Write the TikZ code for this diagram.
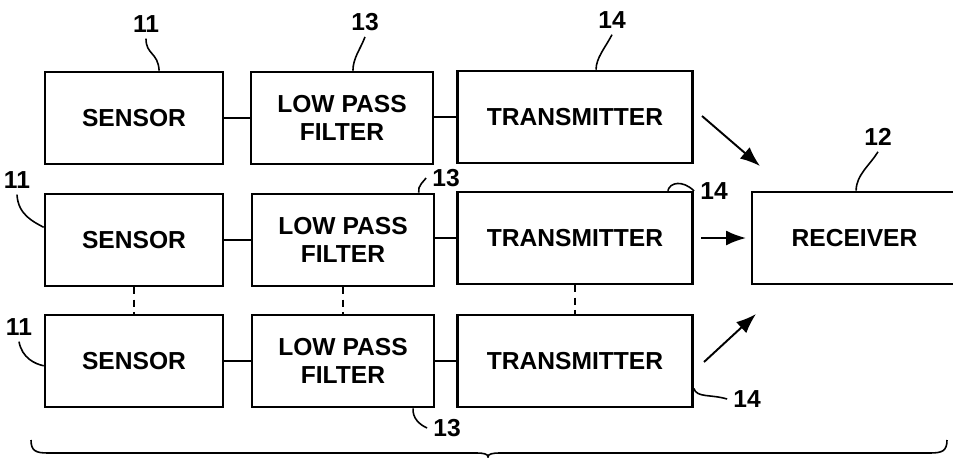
\documentclass[tikz,border=0pt]{standalone}
\usepackage{fontspec}
\setmainfont{Liberation Sans}
\usetikzlibrary{arrows.meta}

\begin{document}
\begin{tikzpicture}[x=0.02cm,y=-0.02cm,font=\fontsize{14}{16}\selectfont\bfseries,
  blk/.style={draw,line width=1.5pt,minimum height=1.84cm,align=center},
  lnk/.style={line width=1.1pt},
  dashlink/.style={line width=0.9pt,dash pattern=on 4pt off 3pt},
  sig/.style={line width=1.1pt,-{Latex[length=4mm,width=3mm]}},
  lead/.style={line width=0.9pt}]
  \useasboundingbox (0,0) rectangle (953,457);

  % first chain
  \node[blk,minimum width=3.56cm] (sen1) at (134,118) {SENSOR};
  \node[blk,minimum width=3.64cm] (lpf1) at (342,118) {LOW PASS\\FILTER};
  \node[blk,minimum width=4.7cm] (tx1) at (575,117) {TRANSMITTER};
  % second chain
  \node[blk,minimum width=3.56cm] (sen2) at (134,240) {SENSOR};
  \node[blk,minimum width=3.64cm] (lpf2) at (343,240) {LOW PASS\\FILTER};
  \node[blk,minimum width=4.7cm] (tx2) at (575,238) {TRANSMITTER};
  % last chain
  \node[blk,minimum width=3.56cm] (sen3) at (134,361) {SENSOR};
  \node[blk,minimum width=3.64cm] (lpf3) at (343,361) {LOW PASS\\FILTER};
  \node[blk,minimum width=4.7cm] (tx3) at (575,361) {TRANSMITTER};

  \node[blk,minimum width=4.1cm] (rcv) at (854.5,238) {RECEIVER};

  \draw[lnk] (sen1) -- (lpf1);
  \draw[lnk] (lpf1.east |- tx1) -- (tx1);
  \draw[lnk] (sen2) -- (lpf2);
  \draw[lnk] (lpf2.east |- tx2) -- (tx2);
  \draw[lnk] (sen3) -- (lpf3);
  \draw[lnk] (lpf3) -- (tx3);

  \draw[dashlink] (sen2) -- (sen3);
  \draw[dashlink] (lpf2) -- (lpf3);
  \draw[dashlink] (tx2) -- (tx3);

  % radio links
  \coordinate (s1) at (702,116);
  \coordinate (e1) at (760,166);
  \coordinate (s2) at (701,238);
  \coordinate (e2) at (746,238);
  \coordinate (s3) at (704,362);
  \coordinate (e3) at (756,314);
  \draw[sig] (s1) -- (e1);
  \draw[sig] (s2) -- (e2);
  \draw[sig] (s3) -- (e3);

  % reference numerals
  \node (l11a) at (146,24) {11};
  \node (l13a) at (365,22) {13};
  \node (l14a) at (612,20) {14};
  \node (l12) at (878,137) {12};
  \node (l11b) at (17,180) {11};
  \node (l11c) at (19,327) {11};
  \node (l13b) at (446,178) {13};
  \node (l13c) at (447,428) {13};
  \node (l14b) at (714,191) {14};
  \node (l14c) at (747,399) {14};

  \draw[lead] (l11a.south) .. controls (146,55) and (158,52) .. (sen1.62);
  \draw[lead] (l13a.south) .. controls (360,50) and (353,58) .. (lpf1.77);
  \draw[lead] (l14a.south) .. controls (605,48) and (596,58) .. (tx1.66);
  \draw[lead] (l12.south) .. controls (870,165) and (856,175) .. (rcv.88);
  \draw[lead] (l11b.south) .. controls (18,215) and (34,222) .. (sen2.172);
  \draw[lead] (l11c.south) .. controls (22,358) and (35,364) .. (sen3.183);
  \draw[lead] (l13b.west) .. controls (425,180) and (417,186) .. (lpf2.32);
  \draw[lead] (lpf3.-34) .. controls (412,418) and (420,425) .. (l13c.west);
  \draw[lead] (tx2.27) .. controls (670,182) and (683,180) .. (l14b.west);
  \draw[lead] (tx3.-13) .. controls (697,398) and (710,394) .. (l14c.west);

  % brace under all chains
  \draw[lead] (31,440) .. controls (31,451) and (36,453) .. (48,453) -- (476,453)
    .. controls (484,453) and (488,454) .. (488,457)
    .. controls (488,454) and (492,453) .. (500,453) -- (930,453)
    .. controls (942,453) and (947,451) .. (947,440);
\end{tikzpicture}
\end{document}
